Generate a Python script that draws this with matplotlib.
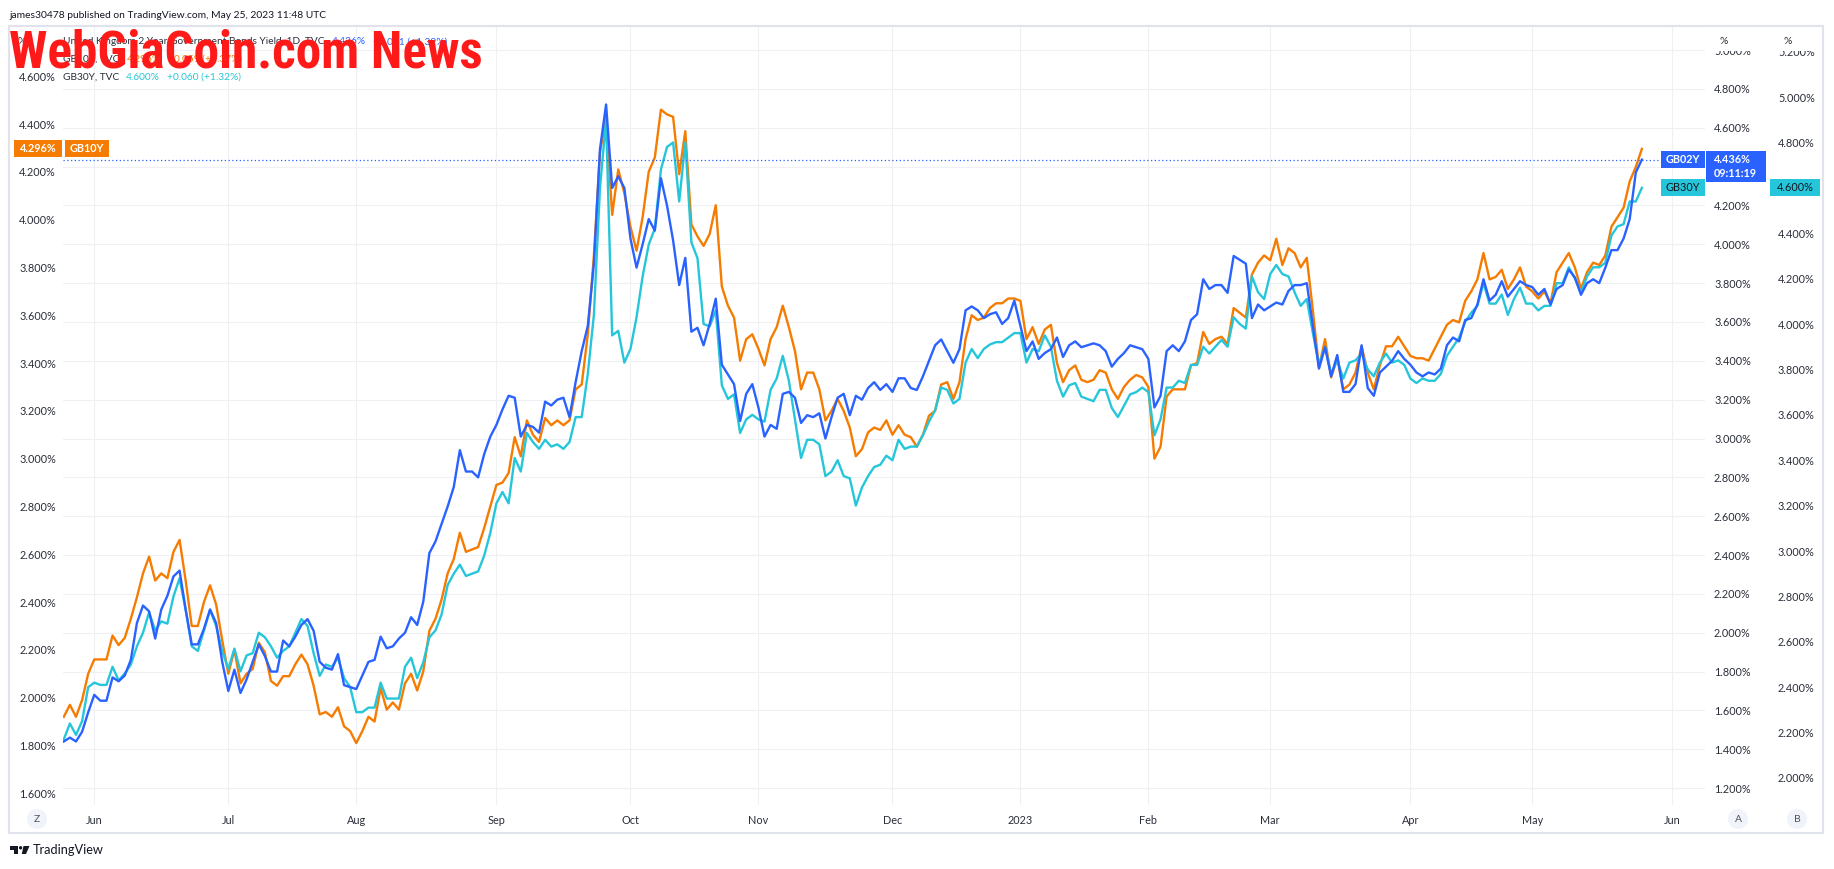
import numpy as np
import pandas as pd
import matplotlib
matplotlib.use('Agg')
import matplotlib.pyplot as plt
from matplotlib import font_manager as fm
from matplotlib.patches import Rectangle, Circle, Polygon

W, H = 1834, 869

# ---------------- data ----------------
start_date = '2022-05-25'
calendar_end = '2023-06-30'
missing_sessions = ['2022-12-26', '2023-01-02']

gb10y = [1.92, 1.97, 1.92, 1.99, 2.10, 2.16, 2.16, 2.16, 2.26, 2.22,
         2.25, 2.33, 2.42, 2.52, 2.59, 2.49, 2.52, 2.50, 2.61, 2.66,
         2.49, 2.30, 2.30, 2.40, 2.47, 2.39, 2.24, 2.10, 2.20, 2.06,
         2.10, 2.12, 2.23, 2.19, 2.07, 2.05, 2.09, 2.09, 2.14, 2.18,
         2.14, 2.05, 1.93, 1.94, 1.92, 1.96, 1.88, 1.86, 1.81, 1.86,
         1.92, 1.90, 2.04, 1.95, 1.98, 1.95,
         2.06, 2.10, 2.03, 2.11, 2.28, 2.33, 2.41, 2.52, 2.58, 2.69,
         2.61, 2.62, 2.63, 2.71, 2.80, 2.89, 2.90, 2.94, 3.09, 3.01,
         3.16, 3.10, 3.07, 3.17, 3.14, 3.16, 3.14, 3.16, 3.29, 3.31,
         3.52, 3.85, 4.28, 4.43, 4.02, 4.21, 4.11, 3.97, 3.87, 4.01,
         4.20, 4.26, 4.46, 4.44, 4.43, 4.19, 4.37, 3.98, 3.93, 3.89,
         3.94, 4.06,
         3.72, 3.64, 3.59, 3.41, 3.50, 3.52, 3.46, 3.39, 3.50, 3.55,
         3.64, 3.55, 3.45, 3.29, 3.36, 3.36, 3.29, 3.16, 3.20, 3.25,
         3.20, 3.13, 3.01, 3.04, 3.11, 3.13, 3.12, 3.16, 3.10, 3.14,
         3.10, 3.09, 3.05, 3.10, 3.18, 3.20, 3.31, 3.32, 3.25, 3.32,
         3.50, 3.60, 3.58, 3.59, 3.63, 3.65, 3.65, 3.67, 3.67, 3.66,
         3.50, 3.55, 3.48,
         3.54, 3.56, 3.40, 3.32, 3.37, 3.39, 3.33, 3.32, 3.33, 3.37,
         3.36, 3.29, 3.25, 3.30, 3.33, 3.35, 3.34, 3.30, 3.00, 3.05,
         3.26, 3.29, 3.29, 3.29, 3.39, 3.40, 3.53, 3.48, 3.50, 3.51,
         3.48, 3.63, 3.61, 3.59, 3.77, 3.82, 3.85, 3.83, 3.92, 3.81,
         3.88, 3.86, 3.80, 3.84, 3.62, 3.38, 3.50, 3.34, 3.42, 3.29,
         3.31, 3.36, 3.47, 3.36,
         3.29, 3.39, 3.47, 3.47, 3.51, 3.47, 3.43, 3.42, 3.42, 3.41,
         3.46, 3.51, 3.56, 3.58, 3.57, 3.66, 3.70, 3.75, 3.86, 3.75,
         3.76, 3.79, 3.71, 3.75, 3.80, 3.72, 3.70, 3.67, 3.70, 3.65,
         3.78, 3.82, 3.86, 3.80, 3.71, 3.78, 3.82, 3.81, 3.85, 3.97,
         4.01, 4.05, 4.16, 4.22, 4.296]

gb02y = [1.44, 1.46, 1.44, 1.49, 1.59, 1.68, 1.65, 1.65, 1.77, 1.75,
         1.78, 1.86, 2.05, 2.14, 2.11, 1.97, 2.12, 2.19, 2.29, 2.32,
         2.12, 1.94, 1.94, 2.02, 2.12, 2.05, 1.85, 1.70, 1.81, 1.69,
         1.76, 1.85, 1.94, 1.88, 1.80, 1.80, 1.96, 1.93, 1.98, 2.04,
         2.07, 2.01, 1.85, 1.82, 1.81, 1.89, 1.73, 1.72, 1.71, 1.78,
         1.85, 1.86, 1.98, 1.92, 1.93, 1.97,
         2.00, 2.08, 2.04, 2.16, 2.41, 2.47, 2.56, 2.65, 2.75, 2.94,
         2.83, 2.83, 2.80, 2.92, 3.01, 3.07, 3.15, 3.22, 3.21, 3.01,
         3.07, 3.06, 3.03, 3.19, 3.17, 3.20, 3.21, 3.11, 3.29, 3.45,
         3.58, 3.90, 4.49, 4.72, 4.29, 4.35, 4.29, 4.03, 3.88, 4.00,
         4.13, 4.07, 4.34, 4.20, 4.02, 3.79, 3.93, 3.55, 3.57, 3.48,
         3.59, 3.72,
         3.38, 3.33, 3.28, 3.09, 3.23, 3.28, 3.16, 3.01, 3.07, 3.05,
         3.23, 3.24, 3.21, 3.08, 3.12, 3.11, 3.13, 3.00, 3.11, 3.21,
         3.23, 3.12, 3.22, 3.20, 3.26, 3.29, 3.25, 3.28, 3.24, 3.31,
         3.31, 3.26, 3.25, 3.32, 3.40, 3.48, 3.51, 3.45, 3.39, 3.46,
         3.66, 3.68, 3.66, 3.62, 3.64, 3.65, 3.59, 3.62, 3.71, 3.58,
         3.45, 3.50, 3.41,
         3.44, 3.46, 3.52, 3.42, 3.48, 3.50, 3.47, 3.48, 3.49, 3.48,
         3.45, 3.37, 3.41, 3.44, 3.48, 3.47, 3.46, 3.41, 3.16, 3.22,
         3.45, 3.48, 3.45, 3.50, 3.61, 3.64, 3.82, 3.77, 3.79, 3.79,
         3.75, 3.94, 3.92, 3.90, 3.62, 3.69, 3.66, 3.68, 3.70, 3.69,
         3.76, 3.79, 3.79, 3.80, 3.58, 3.36, 3.47, 3.32, 3.43, 3.24,
         3.24, 3.28, 3.48, 3.26,
         3.22, 3.34, 3.37, 3.40, 3.45, 3.41, 3.38, 3.34, 3.32, 3.34,
         3.33, 3.36, 3.48, 3.52, 3.50, 3.61, 3.62, 3.69, 3.82, 3.71,
         3.74, 3.81, 3.73, 3.77, 3.81, 3.79, 3.78, 3.74, 3.77, 3.69,
         3.77, 3.79, 3.87, 3.83, 3.74, 3.80, 3.82, 3.80, 3.88, 3.97,
         3.97, 4.03, 4.13, 4.37, 4.436]

gb30y = [2.17, 2.24, 2.19, 2.25, 2.40, 2.42, 2.41, 2.41, 2.49, 2.43,
         2.46, 2.50, 2.58, 2.64, 2.73, 2.65, 2.69, 2.68, 2.80, 2.88,
         2.74, 2.58, 2.56, 2.65, 2.74, 2.67, 2.56, 2.48, 2.57, 2.47,
         2.54, 2.55, 2.64, 2.62, 2.58, 2.53, 2.56, 2.58, 2.64, 2.70,
         2.67, 2.55, 2.45, 2.50, 2.49, 2.53, 2.44, 2.40, 2.29, 2.29,
         2.31, 2.31, 2.42, 2.35, 2.35, 2.35,
         2.49, 2.53, 2.44, 2.51, 2.62, 2.65, 2.72, 2.85, 2.90, 2.94,
         2.89, 2.90, 2.91, 2.98, 3.08, 3.21, 3.26, 3.21, 3.41, 3.35,
         3.52, 3.48, 3.45, 3.49, 3.46, 3.47, 3.45, 3.48, 3.59, 3.59,
         3.78, 4.04, 4.60, 4.90, 3.95, 3.97, 3.83, 3.89, 4.03, 4.21,
         4.35, 4.42, 4.68, 4.78, 4.80, 4.54, 4.80, 4.36, 4.29, 4.00,
         3.99, 4.06,
         3.73, 3.67, 3.69, 3.52, 3.58, 3.60, 3.58, 3.57, 3.71, 3.76,
         3.86, 3.75, 3.58, 3.41, 3.49, 3.49, 3.47, 3.33, 3.35, 3.40,
         3.33, 3.32, 3.20, 3.28, 3.33, 3.37, 3.38, 3.42, 3.40, 3.49,
         3.45, 3.46, 3.46, 3.51, 3.57, 3.62, 3.72, 3.71, 3.65, 3.67,
         3.83, 3.89, 3.85, 3.89, 3.91, 3.92, 3.92, 3.94, 3.96, 3.96,
         3.83, 3.89, 3.88,
         3.95, 3.90, 3.75, 3.68, 3.73, 3.74, 3.68, 3.67, 3.66, 3.71,
         3.71, 3.63, 3.59, 3.64, 3.69, 3.70, 3.72, 3.70, 3.51, 3.58,
         3.72, 3.72, 3.75, 3.74, 3.82, 3.82, 3.90, 3.87, 3.90, 3.93,
         3.90, 4.03, 4.00, 3.98, 4.21, 4.14, 4.11, 4.22, 4.26, 4.22,
         4.21, 4.14, 4.08, 4.11, 3.96, 3.82, 3.90, 3.78, 3.84, 3.76,
         3.83, 3.84, 3.87, 3.80,
         3.77, 3.83, 3.87, 3.83, 3.84, 3.82, 3.76, 3.74, 3.76, 3.75,
         3.75, 3.78, 3.86, 3.90, 3.94, 4.01, 4.05, 4.08, 4.18, 4.09,
         4.09, 4.13, 4.04, 4.11, 4.16, 4.09, 4.09, 4.06, 4.08, 4.08,
         4.18, 4.18, 4.25, 4.20, 4.14, 4.21, 4.25, 4.25, 4.27, 4.39,
         4.43, 4.44, 4.54, 4.54, 4.60]

month_labels = ['Jun', 'Jul', 'Aug', 'Sep', 'Oct', 'Nov', 'Dec', '2023',
                'Feb', 'Mar', 'Apr', 'May', 'Jun']
month_starts = ['2022-06-01', '2022-07-01', '2022-08-01', '2022-09-01',
                '2022-10-01', '2022-11-01', '2022-12-01', '2023-01-01',
                '2023-02-01', '2023-03-01', '2023-04-01', '2023-05-01',
                '2023-06-01']

left_ticks = [1.6, 1.8, 2.0, 2.2, 2.4, 2.6, 2.8, 3.0, 3.2, 3.4, 3.6, 3.8,
              4.0, 4.2, 4.4, 4.6]
a_ticks = [1.2, 1.4, 1.6, 1.8, 2.0, 2.2, 2.4, 2.6, 2.8, 3.0, 3.2, 3.4, 3.6,
           3.8, 4.0, 4.2, 4.4, 4.6, 4.8, 5.0]
b_ticks = [2.0, 2.2, 2.4, 2.6, 2.8, 3.0, 3.2, 3.4, 3.6, 3.8, 4.0, 4.2, 4.4,
           4.6, 4.8, 5.0, 5.2]

title_text = 'james30478 published on TradingView.com, May 25, 2023 11:48 UTC'
name_02 = 'United Kingdom 2 Year Government Bonds Yield, 1D, TVC'
name_10 = 'GB10Y, TVC'
name_30 = 'GB30Y, TVC'
chg_02 = '+0.061 (+1.39%)'
chg_10 = '+0.059 (+1.37%)'
chg_30 = '+0.060 (+1.32%)'
countdown = '09:11:19'
watermark = 'WebGiaCoin.com News'

C10, C02, C30 = '#f57c00', '#2962ff', '#26c6da'
TXT = '#2a2e39'
GRID = '#eef0f3'

# ---------------- fonts ----------------
def has_font(name):
    try:
        fm.findfont(fm.FontProperties(family=name), fallback_to_default=False)
        return True
    except Exception:
        return False

base_font = 'Lato' if has_font('Lato') else 'DejaVu Sans'
plt.rcParams['font.family'] = [base_font, 'DejaVu Sans']
wm_font = base_font
for cand in ['Liberation Sans Narrow', 'DejaVu Sans Condensed',
             'Roboto Condensed', 'Open Sans Condensed', 'Roboto']:
    if has_font(cand):
        wm_font = cand
        break

# ---------------- sessions ----------------
cal = pd.bdate_range(start_date, calendar_end)
cal = cal[~cal.isin(pd.to_datetime(missing_sessions))]
n = len(gb02y)
x = np.arange(n)
month_pos = [int(np.searchsorted(cal.values, np.datetime64(d))) for d in month_starts]

# ---------------- layout ----------------
fig = plt.figure(figsize=(W / 100, H / 100), dpi=100)
fig.patch.set_facecolor('white')

PL, PR, PT, PB = 63, 1705, 26, 805
rect = [PL / W, (H - PB) / H, (PR - PL) / W, (PB - PT) / H]
xlim = ((PL - 63.8) / 6.093, (PR - 63.8) / 6.093)
lim10 = (1.551, 4.810)
lim02 = (1.113, 5.124)
lim30 = (1.881, 5.313)

gax = fig.add_axes(rect, zorder=0)
ax10 = fig.add_axes(rect, zorder=1)
ax30 = fig.add_axes(rect, zorder=2)
ax02 = fig.add_axes(rect, zorder=3)
for a in (gax, ax10, ax30, ax02):
    a.set_xlim(*xlim)
    for s in a.spines.values():
        s.set_visible(False)
    a.tick_params(length=0, labelsize=7.8, colors=TXT)
for a in (ax10, ax30, ax02):
    a.patch.set_visible(False)
    a.set_xticks([])

fmt = lambda v: f'{v:.3f}%'

# grid / time axis
gax.set_ylim(*lim02)
gax.set_yticks(a_ticks)
gax.set_yticklabels([])
gax.set_xticks(month_pos)
gax.set_xticklabels(month_labels)
gax.tick_params(axis='x', pad=7)
gax.grid(True, color=GRID, linewidth=0.8)

# left scale GB10Y
ax10.set_ylim(*lim10)
ax10.set_yticks(left_ticks)
ax10.set_yticklabels([fmt(v) for v in left_ticks])
ax10.tick_params(axis='y', pad=5)
ax10.plot(x, gb10y, color=C10, lw=1.7, solid_joinstyle='round')

# right scale B GB30Y
ax30.set_ylim(*lim30)
ax30.yaxis.tick_right()
ax30.set_yticks(b_ticks)
ax30.set_yticklabels([fmt(v) for v in b_ticks])
ax30.tick_params(axis='y', pad=52.5)
ax30.plot(x, gb30y, color=C30, lw=1.7, solid_joinstyle='round')

# right scale A GB02Y
ax02.set_ylim(*lim02)
ax02.yaxis.tick_right()
ax02.set_yticks(a_ticks)
ax02.set_yticklabels([fmt(v) for v in a_ticks])
ax02.tick_params(axis='y', pad=6.5)
ax02.plot(x, gb02y, color=C02, lw=1.7, solid_joinstyle='round')
ax02.axhline(gb02y[-1], color=C02, lw=0.9, ls=(0, (1, 2)))

# ---------------- helpers in pixel coords (top-left origin) ----------------
def P(px, py):
    return (px / 100, (H - py) / 100)

def rect_px(x0, y0, x1, y1, fc, ec='none', lw=0, z=20):
    r = Rectangle(P(x0, y1), (x1 - x0) / 100, (y1 - y0) / 100,
                  transform=fig.dpi_scale_trans, fc=fc, ec=ec, lw=lw, zorder=z)
    fig.add_artist(r)
    return r

def text_px(px, py, s, color=TXT, z=21, **kw):
    kw.setdefault('va', 'center')
    kw.setdefault('ha', 'left')
    return fig.text(px / W, 1 - py / H, s, color=color, zorder=z, **kw)

def ypix(v, lim):
    return PT + (lim[1] - v) / (lim[1] - lim[0]) * (PB - PT)

# outer frame
rect_px(9, 26, 1823, 833, 'none', ec='#e0e3eb', lw=1.5, z=5)

# header masks over clipped scale labels
rect_px(1707, 27, 1821, 51, 'white', z=15)
rect_px(11, 27, 62, 51, 'white', z=15)
text_px(18, 42, '%', size=7.5, z=16)
text_px(1719, 42, '%', size=7.5, z=16)
text_px(1783, 42, '%', size=7.5, z=16)

# title
text_px(9, 15, title_text, size=7.4, color='#131722')

fig.canvas.draw()
R = fig.canvas.get_renderer()

def row(px, py, pieces, size=7.3):
    for s, c, gap in pieces:
        t = text_px(px, py, s, color=c, size=size, z=22)
        px += t.get_window_extent(renderer=R).width + gap

row(63, 42, [(name_02, TXT, 7), (fmt(gb02y[-1]), C02, 7), (chg_02, C02, 0)])
row(63, 59, [(name_10, TXT, 7), (fmt(gb10y[-1]), C10, 7), (chg_10, C10, 0)])
row(63, 77, [(name_30, TXT, 7), (f'{gb30y[-1]:.3f}%', C30, 7), (chg_30, C30, 0)])

# price labels
y10 = ypix(gb10y[-1], lim10)
rect_px(14, y10 - 8.5, 62, y10 + 8.5, C10, z=25)
text_px(38, y10, fmt(gb10y[-1]), color='white', size=7.8, weight='bold', ha='center', z=26)
rect_px(65, y10 - 8.5, 109, y10 + 8.5, C10, z=25)
text_px(87, y10, 'GB10Y', color='white', size=7.8, weight='bold', ha='center', z=26)

y02 = ypix(gb02y[-1], lim02)
rect_px(1661, y02 - 8.5, 1705, y02 + 8.5, C02, z=25)
text_px(1683, y02, 'GB02Y', color='white', size=7.8, weight='bold', ha='center', z=26)
rect_px(1706, y02 - 8.5, 1766, y02 + 22.5, C02, z=25)
text_px(1714, y02, fmt(gb02y[-1]), color='white', size=7.8, weight='bold', z=26)
text_px(1714, y02 + 14, countdown, color='white', size=7.8, weight='bold', z=26)

y30 = ypix(gb30y[-1], lim30)
rect_px(1661, y30 - 8.5, 1705, y30 + 8.5, C30, z=25)
text_px(1683, y30, 'GB30Y', color='#131722', size=7.8, ha='center', z=26)
rect_px(1770, y30 - 8.5, 1820, y30 + 8.5, C30, z=25)
text_px(1795, y30, fmt(gb30y[-1]), color='#131722', size=7.8, ha='center', z=26)

# bottom buttons
for cx, lab in [(37, 'Z'), (1738, 'A'), (1797, 'B')]:
    fig.add_artist(Circle(P(cx, 819), 0.10, transform=fig.dpi_scale_trans,
                          fc='#f0f3fa', ec='none', zorder=20))
    text_px(cx, 819, lab, size=7.5, ha='center', color='#50535e', z=21)

# TradingView logo + name
ink = '#131722'
rect_px(10, 846, 18, 849.5, ink, z=20)
rect_px(14.5, 846, 18, 854, ink, z=20)
fig.add_artist(Circle(P(20.6, 847.8), 0.017, transform=fig.dpi_scale_trans,
                      fc=ink, ec='none', zorder=20))
fig.add_artist(Polygon([P(23.5, 846), P(29.5, 846), P(26, 854), P(21.8, 854)],
                       closed=True, transform=fig.dpi_scale_trans,
                       fc=ink, ec='none', zorder=20))
text_px(33, 850, 'TradingView', size=9.2, color=ink)

# watermark
wm = text_px(9, 68, watermark, color='#ff1a1a', size=30, weight='bold',
             family=[wm_font, 'DejaVu Sans'], va='baseline', z=40)
w0 = wm.get_window_extent(renderer=R).width
wm.set_fontsize(30 * 474 / w0)

fig.savefig('out.png', dpi=100, facecolor='white')
